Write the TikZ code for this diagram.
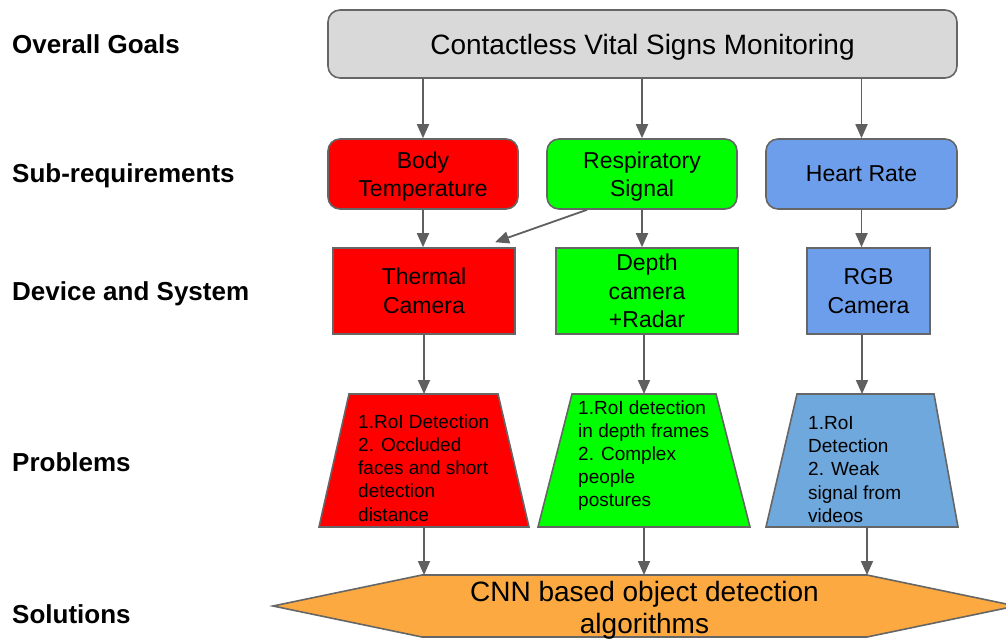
\documentclass[tikz,border=0pt]{standalone}
\usepackage{fontspec}
\setmainfont{Liberation Sans}
\usetikzlibrary{arrows.meta,calc}

\definecolor{edgegray}{HTML}{666666}
\definecolor{arrowgray}{HTML}{5F5F5F}
\definecolor{goalgray}{HTML}{D9D9D9}
\definecolor{tempred}{HTML}{FF0000}
\definecolor{respgreen}{HTML}{00FF00}
\definecolor{heartblue}{HTML}{6D9EEB}
\definecolor{probblue}{HTML}{6FA8DC}
\definecolor{solorange}{HTML}{FBA940}

\begin{document}
\begin{tikzpicture}[x=1pt,y=-1pt,
  box/.style={draw=edgegray, line width=1.6pt, text=black, align=center,
    inner sep=0pt, font=\fontsize{23}{28.5}\selectfont},
  roundbox/.style={box, rounded corners=12pt, text depth=0pt},
  shapebox/.style={draw=none, inner sep=0pt, outer sep=0pt},
  edge/.style={draw=edgegray, line width=1.6pt, line join=miter},
  probtext/.style={anchor=west, align=left, inner sep=0pt,
    font=\fontsize{19}{23.2}\selectfont},
  rowlabel/.style={anchor=base west, inner sep=0pt,
    font=\fontsize{26}{30}\selectfont\bfseries},
  arr/.style={draw=arrowgray, line width=1.8pt,
    -{Triangle[length=14pt,width=12pt]}}]

\clip (0,0) rectangle (1006,639);
\useasboundingbox (0,0) rectangle (1006,639);

% row labels
\node[rowlabel] (lgoal) at (12,54)  {Overall Goals};
\node[rowlabel] (lsub)  at (12,183) {Sub-requirements};
\node[rowlabel] (ldev)  at (12,300) {Device and System};
\node[rowlabel] (lprob) at (12,471) {Problems};
\node[rowlabel] (lsol)  at (12,623) {Solutions};

% overall goal
\node[roundbox, fill=goalgray, minimum width=629pt, minimum height=68pt,
  font=\fontsize{28}{33}\selectfont] (goal) at (642.5,44)
  {Contactless Vital Signs Monitoring};

% sub-requirements
\node[roundbox, fill=tempred, minimum width=190pt, minimum height=70pt]
  (bt) at (423,174) {Body\\Temperature};
\node[roundbox, fill=respgreen, minimum width=190pt, minimum height=70pt]
  (rs) at (642,174) {Respiratory\\Signal};
\node[roundbox, fill=heartblue, minimum width=191pt, minimum height=70pt]
  (hr) at (861.5,174) {Heart Rate};

% devices
\node[box, fill=tempred, minimum width=182pt, minimum height=86pt]
  (th) at (424,291) {Thermal\\Camera};
\node[box, fill=respgreen, minimum width=182pt, minimum height=86pt]
  (dp) at (647,291) {Depth\\camera\\+Radar};
\node[box, fill=heartblue, minimum width=123pt, minimum height=86pt]
  (rgb) at (868.5,291) {RGB\\Camera};

% problems (trapezoids)
\node[shapebox, minimum width=210pt, minimum height=133pt] (p1) at (424,460.5) {};
\draw[edge, fill=tempred] (p1.south west) -- (p1.south east)
  -- ([xshift=-31pt]p1.north east) -- ([xshift=30pt]p1.north west) -- cycle;
\node[probtext] (t1) at (358,468)
  {1.RoI Detection\\2. Occluded\\faces and short\\detection\\distance};

\node[shapebox, minimum width=212pt, minimum height=133pt] (p2) at (644,460.5) {};
\draw[edge, fill=respgreen] (p2.south west) -- (p2.south east)
  -- ([xshift=-34pt]p2.north east) -- ([xshift=34pt]p2.north west) -- cycle;
\node[probtext] (t2) at (578,455.5)
  {1.RoI detection\\in depth frames\\2. Complex\\people\\postures};

\node[shapebox, minimum width=192pt, minimum height=133pt] (p3) at (862,460.5) {};
\draw[edge, fill=probblue] (p3.south west) -- (p3.south east)
  -- ([xshift=-24pt]p3.north east) -- ([xshift=31pt]p3.north west) -- cycle;
\node[probtext] (t3) at (808,469.5)
  {1.RoI\\Detection\\2. Weak\\signal from\\videos};

% solution (hexagon)
\node[shapebox, minimum width=445pt, minimum height=62pt] (sol) at (644.5,606) {};
\draw[edge, fill=solorange] (sol.north west) -- (sol.north east)
  -- ([xshift=149pt]sol.east) -- (sol.south east) -- (sol.south west)
  -- ([xshift=-149pt]sol.west) -- cycle;
\node[align=center, inner sep=0pt, font=\fontsize{28}{32}\selectfont]
  (soltext) at (644.5,610) {CNN based object detection\\algorithms};

% connectors
\draw[arr] (goal.south -| bt.north) -- (bt.north);
\draw[arr] (goal.south -| rs.north) -- (rs.north);
\draw[arr] (goal.south -| hr.north) -- (hr.north);

\draw[arr] (bt.south) -- (bt.south |- th.north);
\draw[arr] (rs.south) -- (rs.south |- dp.north);
\draw[arr] (hr.south) -- (hr.south |- rgb.north);
\draw[arr] ([xshift=-55pt]rs.south) -- ([xshift=71pt,yshift=5pt]th.north);

\draw[arr] (th.south) -- (th.south |- p1.north);
\draw[arr] (p2.north |- dp.south) -- (p2.north);
\draw[arr] (p3.north |- rgb.south) -- (p3.north);

\draw[arr] (p1.south) -- (p1.south |- sol.north);
\draw[arr] (p2.south) -- (p2.south |- sol.north);
\draw[arr] ([xshift=5pt]p3.south) -- ([xshift=5pt]p3.south |- sol.north);
\end{tikzpicture}
\end{document}
